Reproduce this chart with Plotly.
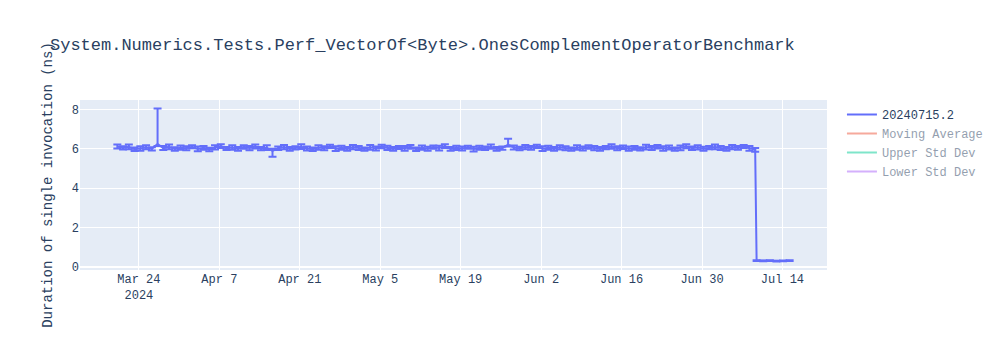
import pandas as pd
import plotly.graph_objects as go

TITLE = "System.Numerics.Tests.Perf_VectorOf<Byte>.OnesComplementOperatorBenchmark"
Y_TITLE = "Duration of single invocation (ns)"
SERIES_NAME = "20240715.2"
HIGH_START = "2024-03-20 06:00"
LOW_START = "2024-07-09 12:00"
LOW_END = "2024-07-15 06:00"

values_high = [
    6.12, 6.05, 6.10, 5.98, 6.02, 6.08, 6.00, 6.25, 6.04, 6.10,
    5.99, 6.06, 6.03, 6.11, 6.00, 6.05, 5.97, 6.08, 6.14, 6.02,
    6.07, 6.00, 6.10, 6.04, 6.12, 6.01, 6.06, 5.90, 6.03, 6.09,
    6.00, 6.05, 6.11, 6.02, 5.98, 6.07, 6.03, 6.13, 6.01, 6.06,
    6.00, 6.09, 6.04, 5.99, 6.08, 6.02, 6.12, 6.05, 6.00, 6.07,
    6.03, 6.10, 5.98, 6.06, 6.01, 6.09, 6.04, 6.14, 6.00, 6.05,
    6.02, 6.08, 5.99, 6.06, 6.03, 6.11, 6.00, 6.04, 6.22, 6.07,
    6.02, 6.09, 6.05, 6.13, 6.01, 6.06, 6.00, 6.08, 6.03, 5.99,
    6.07, 6.02, 6.10, 6.04, 6.00, 6.06, 6.12, 6.03, 6.08, 6.01,
    6.05, 6.00, 6.09, 6.04, 6.11, 6.02, 6.07, 5.99, 6.05, 6.13,
    6.03, 6.08, 6.01, 6.06, 6.10, 6.04, 6.00, 6.09, 6.05, 6.12,
    6.03, 5.95,
]
values_low = [0.32, 0.31, 0.32, 0.30, 0.31, 0.32]

err_plus = [
    0.10, 0.08, 0.12, 0.09, 0.11, 0.10, 0.08, 1.80, 0.10, 0.12,
    0.09, 0.11, 0.10, 0.08, 0.12, 0.10, 0.09, 0.11, 0.10, 0.08,
    0.12, 0.10, 0.09, 0.11, 0.10, 0.08, 0.12, 0.10, 0.09, 0.11,
    0.10, 0.08, 0.12, 0.10, 0.09, 0.11, 0.10, 0.08, 0.12, 0.10,
    0.09, 0.11, 0.10, 0.08, 0.12, 0.10, 0.09, 0.11, 0.10, 0.08,
    0.12, 0.10, 0.09, 0.11, 0.10, 0.08, 0.12, 0.10, 0.09, 0.11,
    0.10, 0.08, 0.12, 0.10, 0.09, 0.11, 0.10, 0.08, 0.30, 0.10,
    0.09, 0.11, 0.10, 0.08, 0.12, 0.10, 0.09, 0.11, 0.10, 0.08,
    0.12, 0.10, 0.09, 0.11, 0.10, 0.08, 0.12, 0.10, 0.09, 0.11,
    0.10, 0.08, 0.12, 0.10, 0.09, 0.11, 0.10, 0.08, 0.12, 0.10,
    0.09, 0.11, 0.10, 0.08, 0.12, 0.10, 0.09, 0.11, 0.10, 0.08,
    0.12, 0.10,
    0.02, 0.02, 0.02, 0.02, 0.02, 0.02,
]

err_minus = [
    0.10, 0.08, 0.12, 0.09, 0.11, 0.10, 0.08, 0.10, 0.10, 0.12,
    0.09, 0.11, 0.10, 0.08, 0.12, 0.10, 0.09, 0.11, 0.10, 0.08,
    0.12, 0.10, 0.09, 0.11, 0.10, 0.08, 0.12, 0.30, 0.09, 0.11,
    0.10, 0.08, 0.12, 0.10, 0.09, 0.11, 0.10, 0.08, 0.12, 0.10,
    0.09, 0.11, 0.10, 0.08, 0.12, 0.10, 0.09, 0.11, 0.10, 0.08,
    0.12, 0.10, 0.09, 0.11, 0.10, 0.08, 0.12, 0.10, 0.09, 0.11,
    0.10, 0.08, 0.12, 0.10, 0.09, 0.11, 0.10, 0.08, 0.10, 0.10,
    0.09, 0.11, 0.10, 0.08, 0.12, 0.10, 0.09, 0.11, 0.10, 0.08,
    0.12, 0.10, 0.09, 0.11, 0.10, 0.08, 0.12, 0.10, 0.09, 0.11,
    0.10, 0.08, 0.12, 0.10, 0.09, 0.11, 0.10, 0.08, 0.12, 0.10,
    0.09, 0.11, 0.10, 0.08, 0.12, 0.10, 0.09, 0.11, 0.10, 0.08,
    0.12, 0.10,
    0.02, 0.02, 0.02, 0.02, 0.02, 0.02,
]

dates_high = pd.date_range(HIGH_START, periods=len(values_high), freq="D")
dates_low = pd.date_range(LOW_START, LOW_END, periods=len(values_low))
dates = list(dates_high) + list(dates_low)
values = values_high + values_low

s = pd.Series(values)
moving_avg = s.rolling(7, min_periods=1).mean()
moving_std = s.rolling(7, min_periods=1).std().fillna(0)
upper = moving_avg + 2 * moving_std
lower = moving_avg - 2 * moving_std

fig = go.Figure()
fig.add_trace(go.Scatter(
    x=dates, y=values, mode="lines", name=SERIES_NAME,
    line=dict(color="#636efa"),
    error_y=dict(type="data", symmetric=False, array=err_plus, arrayminus=err_minus,
                 color="#636efa", thickness=2, width=4),
))
fig.add_trace(go.Scatter(x=dates, y=moving_avg, mode="lines", name="Moving Average",
                         line=dict(color="#EF553B"), visible="legendonly"))
fig.add_trace(go.Scatter(x=dates, y=upper, mode="lines", name="Upper Std Dev",
                         line=dict(color="#00CC96"), visible="legendonly"))
fig.add_trace(go.Scatter(x=dates, y=lower, mode="lines", name="Lower Std Dev",
                         line=dict(color="#AB63FA"), visible="legendonly"))

fig.update_layout(
    width=1000, height=350,
    template="plotly",
    font=dict(family="Courier New, Liberation Mono, monospace"),
    title=dict(text=TITLE),
    yaxis=dict(title=dict(text=Y_TITLE)),
)
fig.write_html("out.html")
